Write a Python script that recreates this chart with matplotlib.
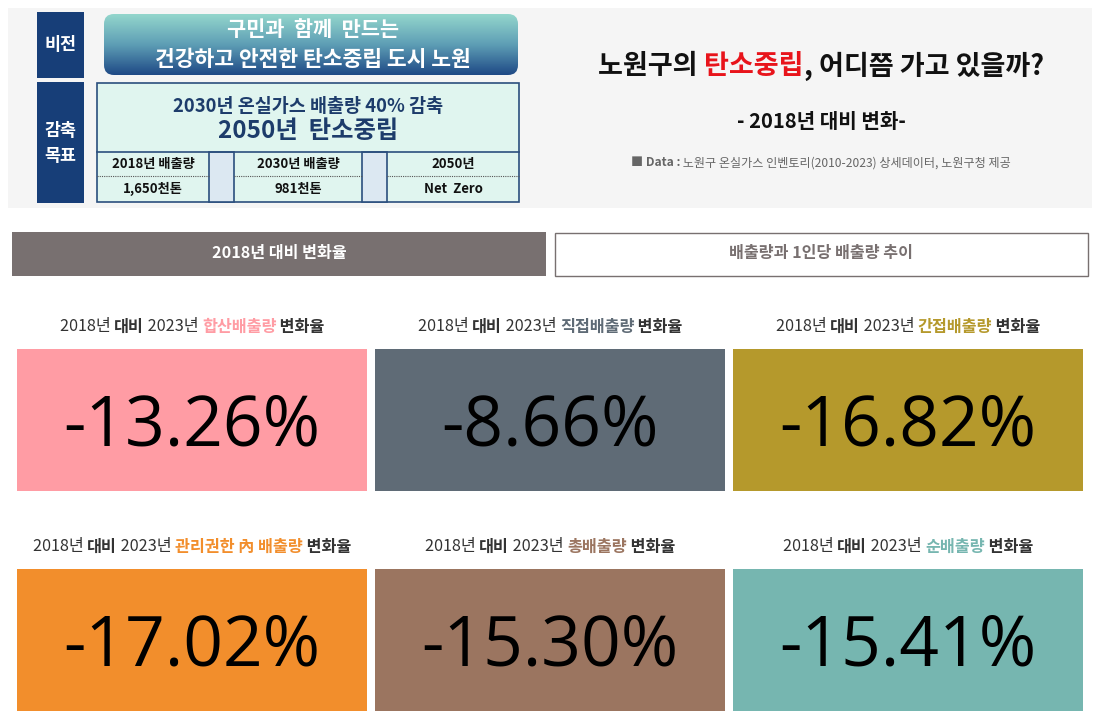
import matplotlib
matplotlib.use("Agg")
import matplotlib.pyplot as plt
import numpy as np
from matplotlib.patches import Rectangle, FancyBboxPatch
from matplotlib.colors import LinearSegmentedColormap

plt.rcParams['font.family'] = ['Noto Sans CJK KR', 'DejaVu Sans']

# tile data
metrics = ["합산배출량", "직접배출량", "간접배출량", "관리권한 內 배출량", "총배출량", "순배출량"]
changes = [-13.26, -8.66, -16.82, -17.02, -15.30, -15.41]
colors = ["#FF9CA4", "#5F6B76", "#B5992C", "#F28E2C", "#9B7560", "#76B6B0"]

vision_line1 = "구민과  함께  만드는"
vision_line2 = "건강하고 안전한 탄소중립 도시 노원"
goal_line1 = "2030년 온실가스 배출량 40% 감축"
goal_line2 = "2050년  탄소중립"
goal_heads = ["2018년 배출량", "2030년 배출량", "2050년"]
goal_vals = ["1,650천톤", "981천톤", "Net  Zero"]

tabs = ["2018년 대비 변화율", "배출량과 1인당 배출량 추이"]

W, H = 1099, 721
fig = plt.figure(figsize=(W / 100, H / 100), dpi=100)
ax = fig.add_axes([0, 0, 1, 1])
ax.set_xlim(0, W)
ax.set_ylim(H, 0)
ax.axis("off")
fig.patch.set_facecolor("white")
renderer = fig.canvas.get_renderer()


def rich_text(x, y, parts, size):
    # parts: list of (text, color, weight); drawn side by side, centred on x
    objs = []
    for s, c, wt in parts:
        t = ax.text(0, y, s, fontsize=size, color=c, fontweight=wt,
                    va="center", ha="left")
        objs.append(t)
    widths = [t.get_window_extent(renderer).width for t in objs]
    start = x - sum(widths) / 2
    for t, w in zip(objs, widths):
        t.set_x(start)
        start += w


# header panel
ax.add_patch(Rectangle((8, 8), 1084, 200, facecolor="#F5F5F5", edgecolor="none"))

navy = "#173E78"
ax.add_patch(Rectangle((37, 12), 47, 66, facecolor=navy, edgecolor="none"))
ax.add_patch(Rectangle((37, 82), 47, 121, facecolor=navy, edgecolor="none"))
ax.text(60.5, 45, "비전", color="white", fontsize=12.5, fontweight="bold", ha="center", va="center")
ax.text(60.5, 131, "감축", color="white", fontsize=12.5, fontweight="bold", ha="center", va="center")
ax.text(60.5, 156, "목표", color="white", fontsize=12.5, fontweight="bold", ha="center", va="center")

# gradient vision box
box = FancyBboxPatch((104, 14), 414, 61, boxstyle="round,pad=0,rounding_size=10",
                     facecolor="none", edgecolor="none")
ax.add_patch(box)
grad = np.linspace(0, 1, 100).reshape(-1, 1)
cmap = LinearSegmentedColormap.from_list("g", ["#93D6CC", "#5E9EB5", "#1F4A86"])
im = ax.imshow(grad, cmap=cmap, aspect="auto", extent=(104, 518, 75, 14), zorder=2)
im.set_clip_path(box)
ax.set_xlim(0, W)
ax.set_ylim(H, 0)
ax.text(313, 29, vision_line1, color="white", fontsize=15, fontweight="bold", ha="center", va="center", zorder=3)
ax.text(313, 60, vision_line2, color="white", fontsize=15.5, fontweight="bold", ha="center", va="center", zorder=3)

# goal box
border = "#2B4F7E"
ax.add_patch(Rectangle((97, 83), 422, 119, facecolor="#E0F5EF", edgecolor=border, lw=1.2))
ax.text(308, 107, goal_line1, color="#1D3C6B", fontsize=13.3, fontweight="bold", ha="center", va="center")
ax.text(308, 131, goal_line2, color="#1D3C6B", fontsize=17.5, fontweight="bold", ha="center", va="center")
ax.plot([97, 519], [152, 152], color=border, lw=1.2)
cols = [(97, 209), (234, 362), (387, 519)]
for x0, x1 in [(209, 234), (362, 387)]:
    ax.add_patch(Rectangle((x0, 152), x1 - x0, 50, facecolor="#DCE8F2", edgecolor=border, lw=1.2))
for (x0, x1), head, val in zip(cols, goal_heads, goal_vals):
    ax.plot([x0, x1], [176, 176], color="#555555", lw=0.8, ls=(0, (1, 1)))
    ax.text((x0 + x1) / 2, 164, head, fontsize=9.5, fontweight="bold", color="#111111", ha="center", va="center")
    ax.text((x0 + x1) / 2, 189, val, fontsize=9.5, fontweight="bold", color="#111111", ha="center", va="center")

# header title
rich_text(821, 66, [("노원구의 ", "#111111", "bold"), ("탄소중립", "#E8141B", "bold"),
                    (", 어디쯤 가고 있을까?", "#111111", "bold")], 19.5)
ax.text(821, 121, "- 2018년 대비 변화-", fontsize=14.5, fontweight="bold", color="#111111", ha="center", va="center")
rich_text(821, 163, [("■ Data :", "#666666", "bold"),
                     (" 노원구 온실가스 인벤토리(2010-2023) 상세데이터, 노원구청 제공", "#666666", "normal")], 8.7)

# tabs
ax.add_patch(Rectangle((12, 232), 534, 44, facecolor="#787070", edgecolor="none"))
ax.text(279, 253, tabs[0], color="white", fontsize=11.6, fontweight="bold", ha="center", va="center")
ax.add_patch(Rectangle((554.5, 232.5), 533, 43, facecolor="white", edgecolor="#787070", lw=1))
ax.text(821, 253, tabs[1], color="#787070", fontsize=11.6, fontweight="bold", ha="center", va="center")

# KPI tiles
xs = [17, 375, 733]
ys = [349, 569]
tw, th = 350, 142
for i, (m, v, c) in enumerate(zip(metrics, changes, colors)):
    x0 = xs[i % 3]
    y0 = ys[i // 3]
    ax.add_patch(Rectangle((x0, y0), tw, th, facecolor=c, edgecolor="none"))
    rich_text(x0 + tw / 2, y0 - 22,
              [("2018년 ", "#333333", "normal"), ("대비", "#333333", "bold"), (" 2023년 ", "#333333", "normal"),
               (m, c, "bold"), (" 변화율", "#333333", "bold")], 11.7)
    ax.text(x0 + tw / 2, y0 + th / 2 + 7, f"{v:.2f}%", fontsize=50, color="black",
            family=["Open Sans", "DejaVu Sans"], ha="center", va="center")

fig.savefig("out.png", dpi=100)
